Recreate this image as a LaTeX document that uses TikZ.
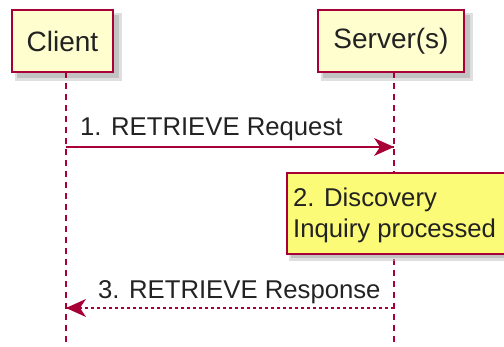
\documentclass[tikz,border=0pt]{standalone}
\usepackage{fontspec}
\setmainfont{Liberation Sans}
\usetikzlibrary{arrows.meta}
\definecolor{pborder}{HTML}{A80036}
\definecolor{pfill}{HTML}{FEFECE}
\definecolor{nfill}{HTML}{FBFB77}
\definecolor{txt}{HTML}{222222}
\tikzset{
  partbox/.style={draw=pborder, fill=pfill, line width=2.6pt, minimum height=62pt, inner sep=0pt, font=\fontsize{28}{30}\selectfont, text=txt},
  lifeline/.style={draw=pborder, line width=1.6pt, dash pattern=on 6pt off 5pt},
  msg/.style={draw=pborder, line width=1.6pt},
  retmsg/.style={msg, dash pattern=on 3pt off 3pt},
  headfill/.style={fill=pborder},
  msglabel/.style={anchor=base west, inner sep=0pt, font=\fontsize{25.7}{28}\selectfont, text=txt},
  notebox/.style={draw=pborder, fill=nfill, line width=1.6pt},
  shadowbox/.style={fill=black!40, opacity=0.55}
}
\begin{document}
\begin{tikzpicture}[x=1pt,y=-1pt]
\useasboundingbox (0,0) rectangle (504,347);
% shadows
\fill[shadowbox] (17,15) rectangle (119,78);
\fill[black!25, opacity=0.5] (15,13) rectangle (122,81);
\fill[shadowbox] (323,15) rectangle (470,78);
\fill[black!25, opacity=0.5] (321,13) rectangle (473,81);
% lifelines
\coordinate (cl) at (66,347);
\coordinate (sl) at (394,347);
\node[partbox, minimum width=101pt] (client) at (62.5,41) {Client};
\node[partbox, minimum width=146pt] (server) at (391,41) {Server(s)};
\draw[lifeline] (66,72) -- (cl);
\draw[lifeline] (394,72) -- (sl);
% message 1
\coordinate (c1) at (66,147);
\coordinate (s1) at (394,147);
\draw[msg] (c1) -- (s1);
\fill[headfill] (s1) -- ++(-20,-9) -- ++(6,9) -- ++(-6,9) -- cycle;
\node[msglabel] (m1) at (80,136) {1. RETRIEVE Request};
% note
\fill[shadowbox] (291,177) rectangle (510,258);
\fill[black!25, opacity=0.5] (289,175) rectangle (510,261);
\node[notebox, minimum width=230pt, minimum height=81pt, anchor=north west, inner sep=0pt] (note) at (286,172) {};
\node[msglabel] (n1) at (293,207) {2. Discovery};
\node[msglabel] (n2) at (293,238) {Inquiry processed};
% message 3
\coordinate (s3) at (394,308);
\coordinate (c3) at (66,308);
\draw[retmsg] (s3) -- (c3);
\fill[headfill] (c3) -- ++(20,-9) -- ++(-6,9) -- ++(6,9) -- cycle;
\node[msglabel] (m3) at (98,299) {3. RETRIEVE Response};
\end{tikzpicture}
\end{document}
